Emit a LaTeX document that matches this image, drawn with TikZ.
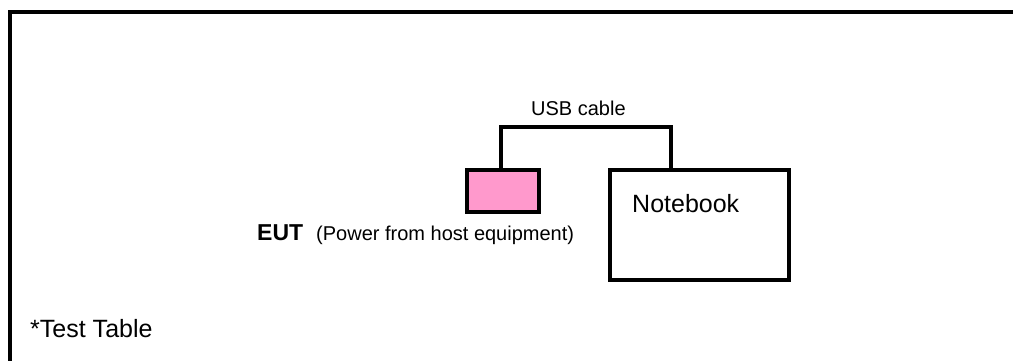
\documentclass[tikz,border=0pt]{standalone}
\usepackage{fontspec}
\setmainfont{Liberation Sans}
\definecolor{eutpink}{HTML}{FF99CC}
\begin{document}
\begin{tikzpicture}[x=1pt,y=-1pt,
  box/.style={draw=black,line width=3.8pt,inner sep=0pt,outer sep=0pt},
  wire/.style={draw=black,line width=3.8pt},
  txt/.style={inner sep=0pt,anchor=base west,text=black}]
\useasboundingbox (0,0) rectangle (1013,361);
% table frame
\draw[line width=4pt,line cap=rect] (10.3,370) -- (10.3,12) -- (1020,12);
% equipment
\node[box,fill=eutpink,minimum width=72pt,minimum height=42pt] (eut) at (503,191) {};
\node[box,fill=white,minimum width=179pt,minimum height=110pt] (nb) at (699.5,225) {};
% cable
\coordinate (c1) at (501,127);
\coordinate (c2) at (671,127);
\draw[wire,line cap=rect] (eut.north -| c1) -- (c1) -- (c2) -- (nb.north -| c2);
% texts
\node[txt] (usb) at (531,115) {\fontsize{20}{24}\selectfont USB cable};
\node[txt] (nbtext) at (632,212) {\fontsize{25}{30}\selectfont Notebook};
\node[txt] (eutlabel) at (257,240) {\fontsize{23}{28}\selectfont\bfseries EUT\hspace*{13pt}\fontsize{20}{24}\selectfont\mdseries(Power from host equipment)};
\node[txt] (table) at (30,337) {\fontsize{25}{30}\selectfont *Test Table};
\end{tikzpicture}
\end{document}
